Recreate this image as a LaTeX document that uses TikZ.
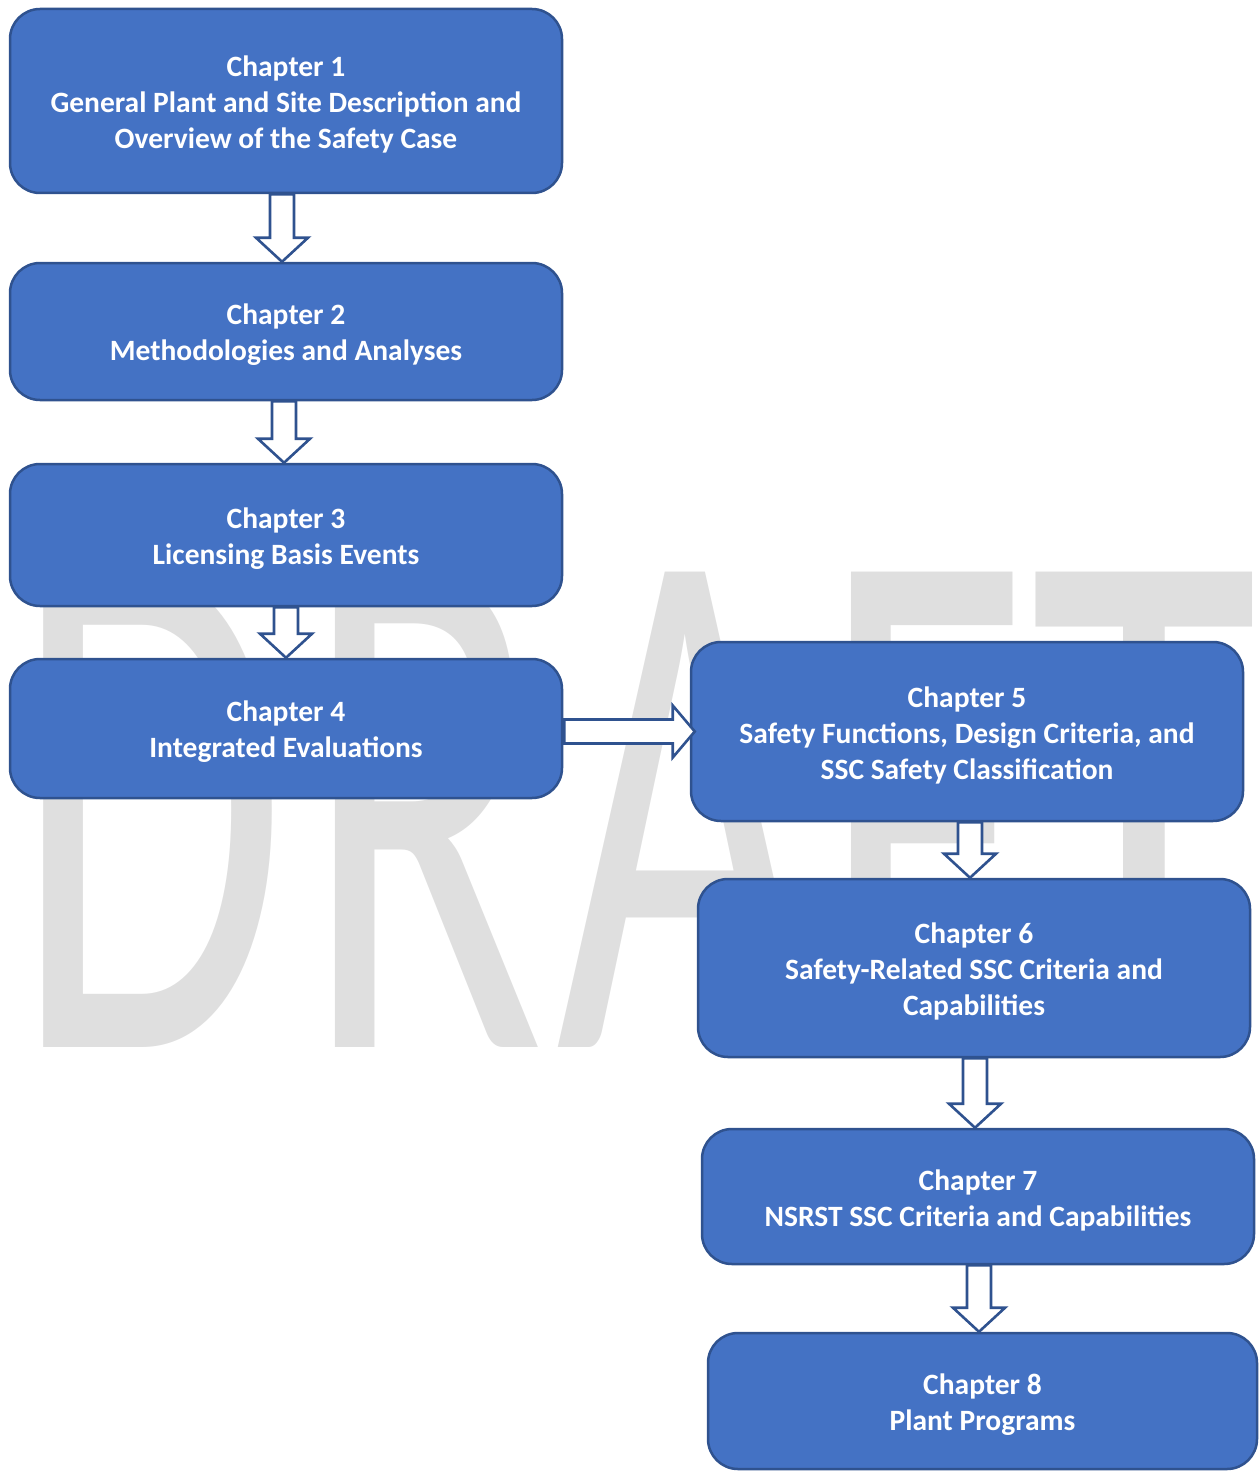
\documentclass[tikz,border=0pt]{standalone}
\usepackage{fontspec}
\setmainfont{Carlito}
\usetikzlibrary{calc}
\definecolor{boxfill}{HTML}{4472C4}
\definecolor{boxline}{HTML}{2F528F}
\definecolor{wmgray}{HTML}{DFDFDF}
\newcommand\varrow[3]{%
  \draw[arr] let \p1=(#1.south), \p2=($(#2.north)+(#3,0)$) in
    (\x2-12pt,\y1) -- (\x2+12pt,\y1) -- (\x2+12pt,\y2+24pt) -- (\x2+26pt,\y2+24pt)
    -- (\x2,\y2) -- (\x2-26pt,\y2+24pt) -- (\x2-12pt,\y2+24pt) -- cycle;}
\newcommand\wmletter[2]{\scalebox{#1}[1]{\fontsize{741}{741}\selectfont #2}}
\begin{document}
\begin{tikzpicture}[x=1pt,y=-1pt,
  chapbox/.style={draw=boxline, fill=boxfill, line width=2.5pt, rounded corners=30pt,
    inner sep=0pt, minimum width=552pt},
  chaptext/.style={text=white, font=\fontsize{29.5}{36}\selectfont\bfseries,
    align=center, inner sep=0pt},
  wm/.style={anchor=base west, inner sep=0pt, text=wmgray},
  arr/.style={draw=boxline, fill=white, line width=2.6pt, line join=miter}]
\useasboundingbox (0,0) rectangle (1259,1471);
% DRAFT watermark
\node[wm] (wmD) at (13,1047)   {\wmletter{0.6}{D}};
\node[wm] (wmR) at (303,1047)  {\wmletter{0.6}{R}};
\node[wm] (wmA) at (556,1047)  {\wmletter{0.6}{A}};
\node[wm] (wmF) at (821,1047)  {\wmletter{0.6}{F}};
\node[wm] (wmT) at (1030,1047) {\wmletter{0.63}{T}};
% boxes
\node[chapbox, minimum height=184pt] (b1) at (286,101) {};
\node[chapbox, minimum height=137pt] (b2) at (286,331.5) {};
\node[chapbox, minimum height=142pt] (b3) at (286,535) {};
\node[chapbox, minimum height=139pt] (b4) at (286,728.5) {};
\node[chapbox, minimum height=179pt] (b5) at (967,731.5) {};
\node[chapbox, minimum height=178pt] (b6) at (974,968) {};
\node[chapbox, minimum height=135pt] (b7) at (978,1196.5) {};
\node[chapbox, minimum height=136pt, minimum width=549pt] (b8) at (982.5,1401) {};
% box texts
\node[chaptext] (t1) at ($(b1.center)+(0,3.5)$)
  {Chapter 1\\General Plant and Site Description and\\Overview of the Safety Case};
\node[chaptext] (t2) at ($(b2.center)+(0,3.5)$) {Chapter 2\\Methodologies and Analyses};
\node[chaptext] (t3) at ($(b3.center)+(0,3.5)$) {Chapter 3\\Licensing Basis Events};
\node[chaptext] (t4) at ($(b4.center)+(0,3.5)$) {Chapter 4\\Integrated Evaluations};
\node[chaptext] (t5) at ($(b5.center)+(0,3.5)$)
  {Chapter 5\\Safety Functions, Design Criteria, and\\SSC Safety Classification};
\node[chaptext] (t6) at ($(b6.center)+(0,3.5)$)
  {Chapter 6\\Safety-Related SSC Criteria and\\Capabilities};
\node[chaptext] (t7) at ($(b7.center)+(0,3.5)$) {Chapter 7\\NSRST SSC Criteria and Capabilities};
\node[chaptext] (t8) at ($(b8.center)+(0,3.5)$) {Chapter 8\\Plant Programs};
% block arrows
\varrow{b1}{b2}{-4}
\varrow{b2}{b3}{-2}
\varrow{b3}{b4}{0}
\varrow{b5}{b6}{-4}
\varrow{b6}{b7}{-3}
\varrow{b7}{b8}{-3.5}
\draw[arr] let \p1=(b4.east), \p2=($(b5.west)+(5,0)$) in
  (\x1+1pt,\y2+12pt) -- (\x2-22pt,\y2+12pt) -- (\x2-22pt,\y2+26pt) -- (\x2,\y2)
  -- (\x2-22pt,\y2-26pt) -- (\x2-22pt,\y2-12pt) -- (\x1+1pt,\y2-12pt) -- cycle;
\end{tikzpicture}
\end{document}
